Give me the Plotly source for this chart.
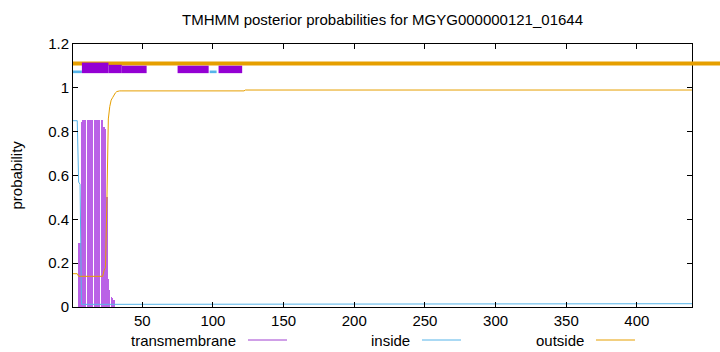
import plotly.graph_objects as go

# ---------------- data ----------------
title_text = "TMHMM posterior probabilities for MGYG000000121_01644"
seq_len = 439

# posterior probabilities as runs: (first position, last position, value)
tm_runs = [(1, 4, 0.0), (5, 6, 0.29), (7, 7, 0.845), (8, 22, 0.855), (23, 23, 0.823),
           (24, 24, 0.81), (25, 25, 0.5), (26, 26, 0.13), (27, 27, 0.076),
           (28, 28, 0.046), (29, 29, 0.04), (30, 30, 0.03), (31, 439, 0.0)]
inside_runs = [(1, 4, 0.85), (5, 5, 0.57), (6, 6, 0.56), (7, 420, 0.012), (421, 439, 0.015)]
outside_runs = [(1, 4, 0.152), (5, 22, 0.14), (23, 23, 0.167), (24, 24, 0.18),
                (25, 25, 0.49), (26, 26, 0.858), (27, 27, 0.914), (28, 28, 0.944),
                (29, 29, 0.955), (30, 30, 0.967), (31, 31, 0.977), (32, 32, 0.983),
                (33, 122, 0.986), (123, 439, 0.99)]

# topology bars drawn above the curves: (x start, x end, y low, y high)
top_tm = [(7.3, 26.1, 1.067, 1.115), (26.1, 35.5, 1.067, 1.105), (35.5, 53.1, 1.067, 1.101),
          (75, 97, 1.067, 1.101), (104, 120.7, 1.067, 1.101)]
top_inside = [(1, 7.3, 1.067, 1.079), (97.7, 102.6, 1.067, 1.079)]
top_outside = [(1, 459, 1.102, 1.120)]

x_ticks = [50, 100, 150, 200, 250, 300, 350, 400]
y_ticks = [0, 0.2, 0.4, 0.6, 0.8, 1.0, 1.2]
legend_labels = ["transmembrane", "inside", "outside"]

# ---------------- styles ----------------
C_TM = "#9400d3"
C_IN = "#56b4e9"
C_OUT = "#e69f00"
FONT = "Liberation Sans"
FS = 15
X_MIN, X_MAX = 1, seq_len
Y_MIN, Y_MAX = 0, 1.2


def expand(runs):
    xs, ys = [], []
    for a, b, v in runs:
        for p in range(a, b + 1):
            xs.append(p)
            ys.append(v)
    return xs, ys


tm_x, tm_y = expand(tm_runs)
in_x, in_y = expand(inside_runs)
out_x, out_y = expand(outside_runs)

fig = go.Figure()
fig.add_trace(go.Bar(x=tm_x, y=tm_y, width=0.9,
                     marker=dict(color="rgba(185,95,230,0.99)", line=dict(width=0)),
                     showlegend=False, hoverinfo="skip"))
fig.add_trace(go.Scatter(x=in_x, y=in_y, mode="lines", line=dict(color=C_IN, width=1),
                         showlegend=False, hoverinfo="skip"))
fig.add_trace(go.Scatter(x=out_x, y=out_y, mode="lines", line=dict(color=C_OUT, width=1),
                         showlegend=False, hoverinfo="skip"))

shapes = []
# orange outside band, extends past the right border (paper coordinates derived from data)
for x0, x1, y0, y1 in top_outside:
    shapes.append(dict(type="rect", xref="paper", yref="paper",
                       x0=(x0 - X_MIN) / (X_MAX - X_MIN), x1=(x1 - X_MIN) / (X_MAX - X_MIN),
                       y0=(y0 - Y_MIN) / (Y_MAX - Y_MIN), y1=(y1 - Y_MIN) / (Y_MAX - Y_MIN),
                       fillcolor=C_OUT, line=dict(width=0), layer="above"))
for x0, x1, y0, y1 in top_inside:
    shapes.append(dict(type="rect", xref="x", yref="y", x0=x0, x1=x1, y0=y0, y1=y1,
                       fillcolor=C_IN, line=dict(width=0), layer="above"))
for x0, x1, y0, y1 in top_tm:
    shapes.append(dict(type="rect", xref="x", yref="y", x0=x0, x1=x1, y0=y0, y1=y1,
                       fillcolor=C_TM, line=dict(width=0), layer="above"))

# legend: text followed by a line sample (gnuplot style)
annotations = []
leg_colors = ["#a040d0", C_IN, C_OUT]
for i, (lab, col) in enumerate(zip(legend_labels, leg_colors)):
    base = 0.2666 + i * 0.2811
    annotations.append(dict(text=lab, xref="paper", yref="paper", x=base, y=-0.1255,
                            xanchor="right", yanchor="middle", showarrow=False,
                            font=dict(family=FONT, size=FS, color="black")))
    shapes.append(dict(type="line", xref="paper", yref="paper", x0=base + 0.0161,
                       x1=base + 0.0791, y0=-0.1255, y1=-0.1255,
                       line=dict(color=col, width=1)))

annotations.append(dict(text="probability", xref="paper", yref="paper", x=-0.092, y=0.5,
                        textangle=-90, xanchor="center", yanchor="middle", showarrow=False,
                        font=dict(family=FONT, size=FS, color="black")))

axis_common = dict(showline=True, linecolor="black", linewidth=1, mirror="allticks",
                   ticks="inside", ticklen=5, tickcolor="black", showgrid=False,
                   zeroline=False, tickfont=dict(family=FONT, size=FS, color="black"))

fig.update_layout(
    width=720, height=352,
    margin=dict(l=73, r=28, t=44, b=45),
    paper_bgcolor="white", plot_bgcolor="white",
    bargap=0,
    title=dict(text=title_text, x=0.5, xref="paper", xanchor="center",
               y=1 - 20 / 352, yref="container", yanchor="middle",
               font=dict(family=FONT, size=FS, color="black")),
    xaxis=dict(range=[X_MIN, X_MAX], tickvals=x_ticks, **axis_common),
    yaxis=dict(range=[Y_MIN, Y_MAX], tickvals=y_ticks, **axis_common),
    shapes=shapes, annotations=annotations, showlegend=False,
)

fig.write_html("out.html")
